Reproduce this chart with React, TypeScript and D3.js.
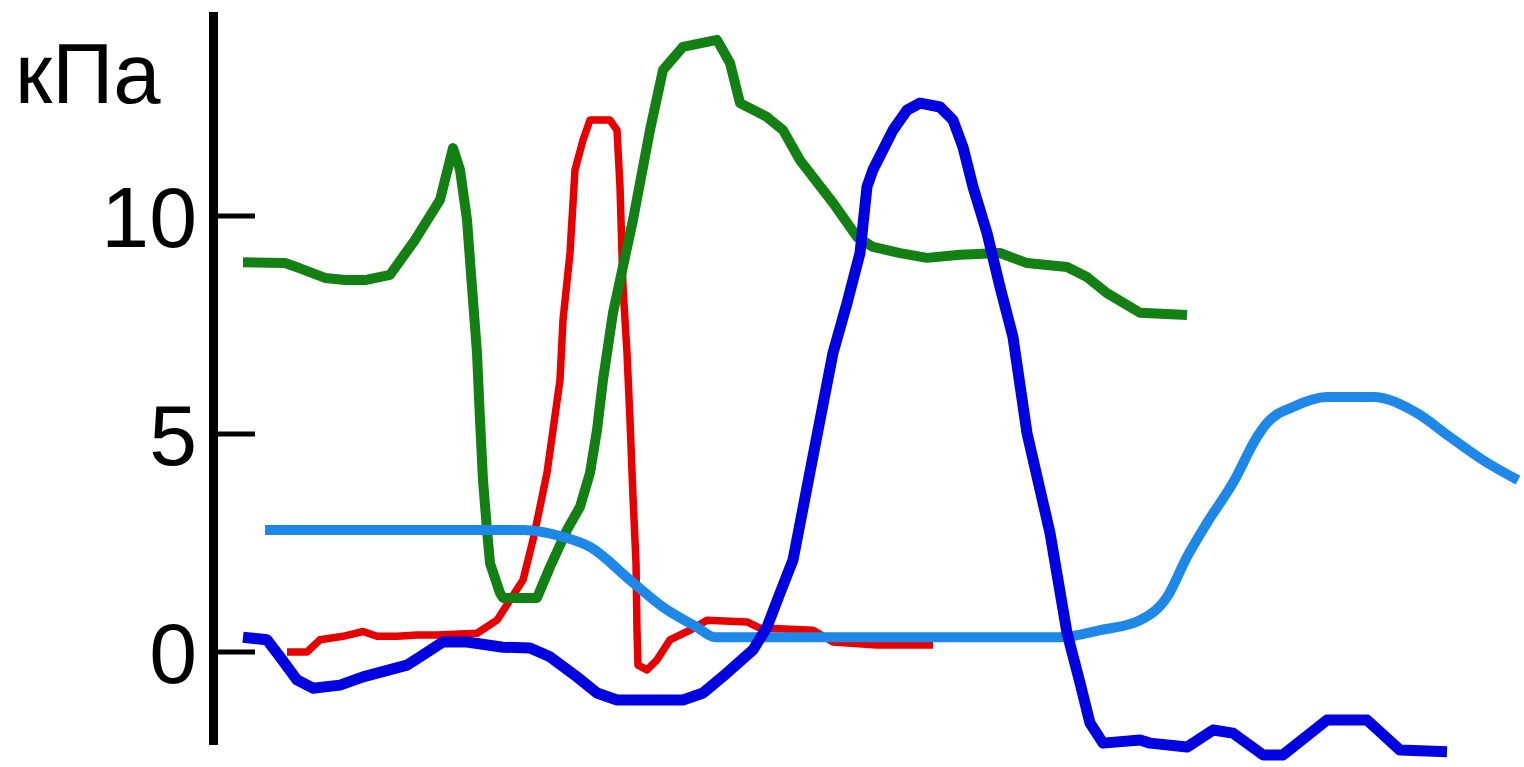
import React from "react";
import * as d3 from "d3";

const W = 1524;
const H = 767;

const yTicks = [0, 5, 10];
const unitLabel = "кПа";

// time (arbitrary units), pressure (kPa)
const greenT = [30, 72, 87, 112, 132, 152, 177, 202, 227, 240, 247, 254, 259, 264, 267, 270, 274, 277, 287, 290, 324, 337, 354, 367, 377, 384, 390, 400, 420, 437, 450, 470, 504, 517, 527, 554, 570, 587, 620, 644, 660, 687, 714, 747, 787, 814, 854, 874, 894, 927, 974];
const greenV = [8.94, 8.92, 8.8, 8.58, 8.53, 8.53, 8.65, 9.45, 10.37, 11.56, 11.06, 9.91, 8.37, 6.86, 5.32, 3.94, 2.8, 2.04, 1.35, 1.24, 1.24, 1.95, 2.8, 3.33, 4.11, 5.09, 6.24, 7.78, 9.91, 11.97, 13.35, 13.88, 14.04, 13.51, 12.59, 12.27, 11.97, 11.28, 10.3, 9.52, 9.29, 9.15, 9.04, 9.11, 9.15, 8.92, 8.83, 8.6, 8.23, 7.78, 7.73];

const redT = [74, 94, 107, 130, 150, 164, 184, 204, 224, 264, 284, 297, 310, 320, 327, 334, 340, 347, 350, 357, 362, 370, 377, 397, 404, 407, 410, 414, 417, 420, 423, 424, 425, 434, 444, 457, 477, 494, 534, 547, 600, 620, 664, 720];
const redV = [0.0, 0.0, 0.28, 0.36, 0.47, 0.36, 0.36, 0.39, 0.39, 0.43, 0.73, 1.19, 1.65, 2.57, 3.33, 4.11, 5.09, 6.24, 7.61, 9.15, 11.06, 11.74, 12.2, 12.2, 11.97, 10.67, 8.37, 6.86, 5.32, 3.56, 2.04, 0.5, -0.3, -0.41, -0.18, 0.28, 0.5, 0.73, 0.69, 0.55, 0.5, 0.23, 0.16, 0.16];

const blueT = [30, 54, 67, 84, 100, 127, 150, 194, 207, 230, 254, 290, 317, 337, 364, 384, 404, 470, 490, 514, 540, 554, 567, 580, 607, 620, 634, 647, 654, 660, 680, 694, 707, 727, 740, 750, 760, 774, 787, 800, 814, 837, 854, 867, 877, 890, 927, 937, 974, 1000, 1020, 1050, 1070, 1114, 1154, 1187, 1234];
const blueV = [0.34, 0.28, -0.11, -0.64, -0.83, -0.76, -0.57, -0.3, -0.11, 0.23, 0.23, 0.11, 0.09, -0.11, -0.57, -0.94, -1.1, -1.1, -0.94, -0.48, 0.05, 0.57, 1.35, 2.11, 5.32, 6.86, 8.0, 9.15, 10.67, 11.06, 11.97, 12.43, 12.59, 12.5, 12.2, 11.58, 10.67, 9.61, 8.37, 7.22, 5.02, 2.73, 0.44, -0.71, -1.63, -2.09, -2.02, -2.09, -2.18, -1.79, -1.86, -2.36, -2.36, -1.56, -1.56, -2.25, -2.29];

const lightT = [52, 310, 350, 377, 417, 450, 484, 502, 847, 887, 927, 954, 974, 994, 1020, 1044, 1054, 1080, 1114, 1160, 1204, 1237, 1270, 1305];
const lightV = [2.8, 2.8, 2.64, 2.41, 1.65, 1.03, 0.57, 0.34, 0.34, 0.5, 0.73, 1.26, 2.18, 2.96, 3.88, 4.93, 5.25, 5.62, 5.85, 5.85, 5.48, 4.93, 4.4, 3.94];

const x = d3.scaleLinear().domain([0, 1300]).range([213, 1513]);
const y = d3.scaleLinear().domain([0, 10]).range([652, 216]);

const makeLine = (curve: d3.CurveFactory) =>
  d3
    .line<[number, number]>()
    .x((d) => x(d[0]))
    .y((d) => y(d[1]))
    .curve(curve);

const zip = (t: number[], v: number[]): [number, number][] => t.map((ti, i) => [ti, v[i]]);

const series = [
  { name: "red", t: redT, v: redV, color: "#e60000", width: 7.5, curve: d3.curveLinear },
  { name: "green", t: greenT, v: greenV, color: "#128012", width: 10, curve: d3.curveLinear },
  { name: "light", t: lightT, v: lightV, color: "#1e88e8", width: 10, curve: d3.curveMonotoneX },
  { name: "blue", t: blueT, v: blueV, color: "#0000e0", width: 11, curve: d3.curveLinear },
];

export default function App() {
  const font = "'Liberation Sans', Arial, sans-serif";
  return (
    <svg
      width={W}
      height={H}
      style={{ position: "absolute", left: 0, top: 0, background: "#fff" }}
    >
      <rect x={0} y={0} width={W} height={H} fill="#fff" />
      {series.map((s) => (
        <path
          key={s.name}
          d={makeLine(s.curve)(zip(s.t, s.v)) || ""}
          fill="none"
          stroke={s.color}
          strokeWidth={s.width}
          strokeLinejoin="round"
          strokeLinecap="butt"
        />
      ))}
      <line x1={213.5} x2={213.5} y1={12} y2={745} stroke="#000" strokeWidth={9} />
      {yTicks.map((t) => (
        <g key={t}>
          <line x1={213} x2={255} y1={y(t)} y2={y(t)} stroke="#000" strokeWidth={5} />
          <text
            x={197}
            y={y(t) + 31}
            textAnchor="end"
            fontFamily={font}
            fontSize={86}
            fill="#000"
          >
            {t}
          </text>
        </g>
      ))}
      <text x={15} y={103} fontFamily={font} fontSize={85} fill="#000">
        {unitLabel}
      </text>
    </svg>
  );
}
